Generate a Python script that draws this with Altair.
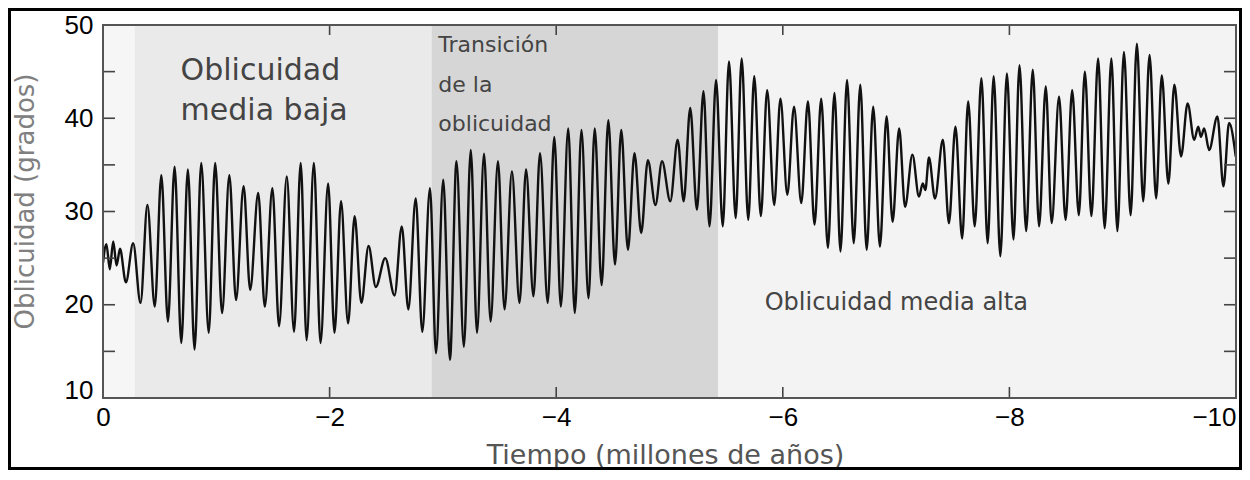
import altair as alt
import pandas as pd

# ---- data: alternating extremes of Mars obliquity ----
# time in millions of years before present (plotted as negative), obliquity in degrees
edad = [
    0.000, 0.030, 0.060, 0.090, 0.120, 0.150, 0.202, 0.266, 0.331, 0.392, 0.457, 0.515, 0.573, 0.632,
    0.691, 0.749, 0.808, 0.867, 0.933, 0.990, 1.051, 1.115, 1.174, 1.241, 1.299, 1.370, 1.428, 1.495,
    1.554, 1.622, 1.686,
    1.745, 1.797, 1.861, 1.920, 1.987, 2.043, 2.101, 2.163, 2.221, 2.280, 2.344, 2.408, 2.491, 2.573,
    2.637, 2.695, 2.760, 2.818, 2.886, 2.939, 3.003, 3.062, 3.120, 3.185, 3.246, 3.301, 3.363,
    3.421, 3.486, 3.544, 3.609, 3.676, 3.734, 3.799, 3.857, 3.925, 3.983, 4.041, 4.106, 4.164, 4.223,
    4.285, 4.340, 4.401, 4.460, 4.519, 4.574, 4.633, 4.691, 4.750, 4.809, 4.876, 4.934, 5.007,
    5.072, 5.125, 5.183, 5.242, 5.300, 5.353, 5.411, 5.470, 5.525, 5.584, 5.637, 5.695, 5.748, 5.806,
    5.862, 5.924, 5.979, 6.040, 6.099, 6.163, 6.222, 6.280, 6.339, 6.398, 6.456, 6.509, 6.567, 6.626, 6.684,
    6.740, 6.798, 6.857, 6.916, 6.969, 7.027, 7.079, 7.144, 7.202, 7.235, 7.258, 7.290, 7.343, 7.413,
    7.466, 7.524, 7.583, 7.636, 7.694, 7.753, 7.808, 7.861, 7.920, 7.978, 8.036, 8.089, 8.148, 8.206,
    8.262, 8.321,
    8.373, 8.438, 8.496, 8.554, 8.613, 8.666, 8.724, 8.783, 8.841, 8.900, 8.953, 9.011, 9.070, 9.125,
    9.181, 9.237, 9.295, 9.345, 9.403, 9.456, 9.515, 9.573, 9.631, 9.667, 9.690, 9.719, 9.763, 9.836,
    9.889, 9.939, 9.998,
]
oblicuidad = [
    24.5, 26.5, 23.8, 26.8, 24.2, 26.0, 22.4, 26.6, 20.2, 30.7, 19.8, 33.9, 18.2, 34.8,
    15.9, 34.5, 15.2, 35.2, 17.0, 35.2, 19.1, 33.9, 20.5, 32.7, 21.6, 32.0, 19.8, 32.5,
    17.7, 33.75, 17.1,
    35.2, 16.2, 35.2, 15.9, 33.0, 17.0, 31.1, 18.0, 29.5, 20.2, 26.3, 21.9, 25.0, 21.0,
    28.4, 19.5, 31.4, 17.1, 32.5, 14.8, 33.4, 14.1, 35.4, 15.5, 36.6, 17.0, 36.2,
    18.2, 35.4, 19.5, 34.3, 20.2, 34.5, 20.9, 36.25, 20.2, 38.0, 19.8, 38.9, 19.1, 38.75,
    20.7, 38.9, 22.1, 39.8, 24.3, 38.75, 25.9, 36.25, 27.7, 35.5, 30.7, 35.4, 31.1,
    37.7, 31.1, 41.1, 30.2, 42.9, 28.4, 44.1, 28.4, 46.1, 29.3, 46.4, 29.1, 44.5, 29.5,
    43.0, 30.7, 42.1, 31.8, 41.25, 30.9, 41.8, 28.6, 42.1, 26.1, 42.7, 25.7, 44.1, 26.6, 43.6,
    25.9, 41.25, 26.25, 40.2, 28.9, 38.9, 30.5, 36.1, 31.6, 33.0, 32.3, 35.8, 31.4, 37.7,
    28.75, 39.1, 27.1, 41.8, 28.4, 44.3, 26.6, 44.5, 25.2, 44.8, 27.0, 45.7, 27.9, 45.2,
    28.4, 43.4,
    28.75, 42.3, 29.1, 43.0, 29.6, 45.0, 29.5, 46.4, 28.2, 46.4, 27.9, 47.1, 29.6, 48.0,
    31.1, 46.8, 31.4, 44.6, 33.0, 43.6, 35.9, 41.6, 37.7, 39.1, 38.0, 38.9, 36.6, 40.2,
    32.7, 39.5, 35.9,
]

# shaded periods (start, end in Myr, fill)
banda_inicio = [0.0, -0.28, -2.90, -5.43]
banda_fin = [-0.28, -2.90, -5.43, -10.0]
banda_color = ["#f6f6f6", "#eaeaea", "#d6d6d6", "#f3f3f3"]

# annotations
texto = ["Oblicuidad\nmedia baja", "Transición\nde la\noblicuidad", "Oblicuidad media alta"]
texto_t = [-0.685, -2.96, -5.84]
texto_v = [44.1, 47.1, 19.4]
texto_tam = [30, 22, 24]

x_ticks = [0, -2, -4, -6, -8, -10]
x_minor = [-2, -4, -6, -8]
y_labels = [10, 20, 30, 40, 50]
y_minor = [15, 20, 25, 30, 35, 40, 45]

W, H = 1133, 373

df = pd.DataFrame({"t": [-a for a in edad], "v": oblicuidad})
bands = pd.DataFrame({"t": banda_inicio, "t2": banda_fin, "c": banda_color})
labels = pd.DataFrame({"t": texto_t, "v": texto_v, "label": texto, "s": texto_tam})
yt = pd.DataFrame({"v": y_minor})
xt = pd.DataFrame({"t": x_minor})
one = pd.DataFrame({"k": [0]})

xsc = alt.Scale(domain=[0, -10], nice=False, zero=False)
ysc = alt.Scale(domain=[10, 50], nice=False, zero=False)

x_enc = alt.X(
    "t:Q", scale=xsc,
    axis=alt.Axis(
        values=x_ticks,
        labelExpr="datum.value == 0 ? '0' : '\u2212' + abs(datum.value)",
        labelAlign={"expr": "datum.value == -10 ? 'right' : 'center'"},
        labelFont="Liberation Sans", labelFontSize=26, labelColor="#000",
        labelPadding=6, tickSize=0, domain=False, grid=False,
        title="Tiempo (millones de años)", titleFont="DejaVu Sans", titleFontSize=27,
        titleFontWeight="normal", titleColor="#555", titleX=562, titleY=65,
        titleAlign="center", titleBaseline="alphabetic",
    ),
)
y_enc = alt.Y(
    "v:Q", scale=ysc,
    axis=alt.Axis(
        values=y_labels,
        labelBaseline={"expr": "datum.value == 10 ? 'alphabetic' : 'middle'"},
        labelFont="Liberation Sans", labelFontSize=26, labelColor="#000",
        labelPadding=10, tickSize=0, domain=False, grid=False,
        title="Oblicuidad (grados)", titleFont="DejaVu Sans", titleFontSize=26,
        titleFontWeight="normal", titleColor="#808080", titleX=-78, titleY=176,
        titleAngle=270, titleAlign="center", titleBaseline="middle",
    ),
)

band_layer = alt.Chart(bands).mark_rect().encode(
    x=x_enc, x2=alt.X2("t2:Q"), y=alt.value(0), y2=alt.value(H),
    color=alt.Color("c:N", scale=None),
)

line_layer = alt.Chart(df).mark_line(
    color="#111", strokeWidth=2.4, interpolate="monotone", clip=True
).encode(x=x_enc, y=y_enc)

left_ticks = alt.Chart(yt).mark_rule(color="#444", strokeWidth=1.6).encode(
    y=y_enc, x=alt.value(0), x2=alt.value(12))
right_ticks = alt.Chart(yt).mark_rule(color="#444", strokeWidth=1.6).encode(
    y=y_enc, x=alt.value(W - 12), x2=alt.value(W))
bottom_ticks = alt.Chart(xt).mark_rule(color="#444", strokeWidth=1.6).encode(
    x=x_enc, y=alt.value(H - 11), y2=alt.value(H))
top_ticks = alt.Chart(xt).mark_rule(color="#444", strokeWidth=1.6).encode(
    x=x_enc, y=alt.value(0), y2=alt.value(10))

text_layer = alt.Chart(labels).mark_text(
    align="left", baseline="alphabetic", font="DejaVu Sans", color="#444",
    lineBreak="\n", lineHeight=39.5,
).encode(x=x_enc, y=y_enc, text="label:N", size=alt.Size("s:Q", scale=None))

frame = alt.Chart(one).mark_rect(fill=None, stroke="#555", strokeWidth=2).encode(
    x=alt.value(0), x2=alt.value(W), y=alt.value(0), y2=alt.value(H))

outer = alt.Chart(one).mark_rect(fill=None, stroke="#000", strokeWidth=3).encode(
    x=alt.value(-93.5), x2=alt.value(W + 4.5), y=alt.value(-15.5), y2=alt.value(H + 70.5))

chart = alt.layer(
    band_layer, line_layer, left_ticks, right_ticks, bottom_ticks, top_ticks,
    text_layer, frame, outer,
).properties(
    width=W, height=H,
    autosize=alt.AutoSizeParams(type="none"),
    padding={"left": 95, "top": 17, "right": 6, "bottom": 72},
    background="white",
).configure_view(stroke=None)

chart.save("out.html", embed_options={"renderer": "svg", "actions": False})
